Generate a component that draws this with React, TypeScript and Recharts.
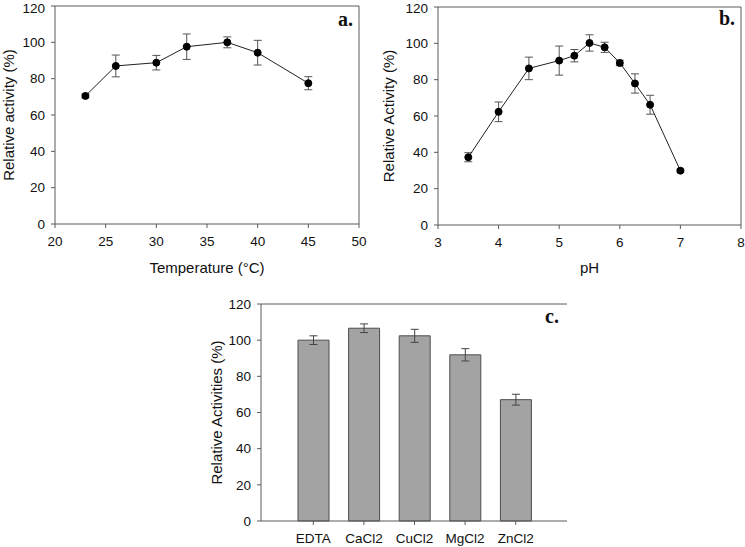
import React from "react";
import {
  LineChart,
  Line,
  BarChart,
  Bar,
  XAxis,
  YAxis,
  ErrorBar,
  ReferenceLine,
} from "recharts";

// a. temperature profile
const tempC = [23, 26, 30, 33, 37, 40, 45];
const tempActivity = [70.5, 87, 88.8, 97.6, 100, 94.3, 77.5];
const tempError = [1, 6, 4, 7, 3, 6.8, 3.6];
const tempTicks = [20, 25, 30, 35, 40, 45, 50];

// b. pH profile
const phValues = [3.5, 4, 4.5, 5, 5.25, 5.5, 5.75, 6, 6.25, 6.5, 7];
const phActivity = [37.3, 62.3, 86.2, 90.5, 93.2, 100.2, 97.8, 89.2, 77.9, 66.2, 29.9];
const phError = [2.5, 5.4, 6.2, 8, 3.4, 4.5, 2.8, 1.5, 5.3, 5.2, 0.8];
const phTicks = [3, 4, 5, 6, 7, 8];

// c. effect of metal ions / EDTA
const compounds = ["EDTA", "CaCl2", "CuCl2", "MgCl2", "ZnCl2"];
const compoundActivity = [100, 106.6, 102.4, 91.9, 67.1];
const compoundError = [2.4, 2.4, 3.6, 3.4, 3];

const activityTicks = [0, 20, 40, 60, 80, 100, 120];

const FONT = '"Liberation Sans", Arial, sans-serif';
const SERIF = '"Liberation Serif", "Times New Roman", serif';
const AXIS = "#5a5a5a";
const TICK = { fill: "#111", fontSize: 13.5, fontFamily: FONT };

const tempData = tempC.map((x, i) => ({ x, y: tempActivity[i], err: tempError[i] }));
const phData = phValues.map((x, i) => ({ x, y: phActivity[i], err: phError[i] }));
const compoundData = compounds.map((name, i) => ({
  name,
  v: compoundActivity[i],
  err: compoundError[i],
}));

// rotated y title, centred on the plot height
function yTitle(text: string, cxOffset: number) {
  return (props: any) => {
    const vb = props.viewBox || {};
    const cx = (vb.x ?? 0) + cxOffset;
    const cy = (vb.y ?? 0) + (vb.height ?? 0) / 2;
    return (
      <text
        x={cx}
        y={cy}
        transform={`rotate(-90 ${cx} ${cy})`}
        textAnchor="middle"
        dominantBaseline="central"
        fontFamily={FONT}
        fontSize={15}
        fill="#111"
      >
        {text}
      </text>
    );
  };
}

function xTitle(text: string, cyOffset: number) {
  return (props: any) => {
    const vb = props.viewBox || {};
    const cx = (vb.x ?? 0) + (vb.width ?? 0) / 2;
    const cy = (vb.y ?? 0) + cyOffset;
    return (
      <text
        x={cx}
        y={cy}
        textAnchor="middle"
        dominantBaseline="central"
        fontFamily={FONT}
        fontSize={15}
        fill="#111"
      >
        {text}
      </text>
    );
  };
}

function PanelLetter({ text, right, top }: { text: string; right: number; top: number }) {
  return (
    <div
      style={{
        position: "absolute",
        right,
        top,
        fontFamily: SERIF,
        fontWeight: "bold",
        fontSize: 20,
        lineHeight: "20px",
        color: "#111",
      }}
    >
      {text}
    </div>
  );
}

export default function App() {
  return (
    <div
      style={{
        position: "absolute",
        left: 0,
        top: 0,
        width: 745,
        height: 547,
        background: "#fff",
        overflow: "hidden",
      }}
    >
      {/* a. temperature */}
      <div style={{ position: "absolute", left: 0, top: 0 }}>
        <LineChart width={370} height={280} data={tempData} margin={{ top: 6, right: 11, left: 0, bottom: 0 }}>
          <XAxis
            type="number"
            dataKey="x"
            domain={[20, 50]}
            ticks={tempTicks}
            height={56}
            stroke={AXIS}
            tick={TICK}
            tickSize={4}
            tickMargin={8}
            label={xTitle("Temperature (°C)", 43)}
          />
          <YAxis
            domain={[0, 120]}
            ticks={activityTicks}
            width={55}
            stroke={AXIS}
            tick={TICK}
            tickSize={4}
            tickMargin={6}
            label={yTitle("Relative activity (%)", 8)}
          />
          <ReferenceLine y={120} stroke={AXIS} />
          <ReferenceLine x={50} stroke={AXIS} />
          <Line
            type="linear"
            dataKey="y"
            stroke="#222"
            strokeWidth={1}
            dot={{ r: 3.5, fill: "#000", stroke: "#000", strokeWidth: 1 }}
            isAnimationActive={false}
          >
            <ErrorBar dataKey="err" width={4} stroke="#555" strokeWidth={1} direction="y" />
          </Line>
        </LineChart>
      </div>
      <PanelLetter text="a." right={392} top={9} />

      {/* b. pH */}
      <div style={{ position: "absolute", left: 370, top: 0 }}>
        <LineChart width={375} height={280} data={phData} margin={{ top: 7, right: 4, left: 0, bottom: 0 }}>
          <XAxis
            type="number"
            dataKey="x"
            domain={[3, 8]}
            ticks={phTicks}
            height={55}
            stroke={AXIS}
            tick={TICK}
            tickSize={4}
            tickMargin={8}
            label={xTitle("pH", 42)}
          />
          <YAxis
            domain={[0, 120]}
            ticks={activityTicks}
            width={68}
            stroke={AXIS}
            tick={TICK}
            tickSize={4}
            tickMargin={6}
            label={yTitle("Relative Activity (%)", 18)}
          />
          <ReferenceLine y={120} stroke={AXIS} />
          <ReferenceLine x={8} stroke={AXIS} />
          <Line
            type="linear"
            dataKey="y"
            stroke="#222"
            strokeWidth={1}
            dot={{ r: 3.5, fill: "#000", stroke: "#000", strokeWidth: 1 }}
            isAnimationActive={false}
          >
            <ErrorBar dataKey="err" width={4} stroke="#555" strokeWidth={1} direction="y" />
          </Line>
        </LineChart>
      </div>
      <PanelLetter text="b." right={10} top={8} />

      {/* c. compounds */}
      <div style={{ position: "absolute", left: 190, top: 290 }}>
        <BarChart width={390} height={257} data={compoundData} margin={{ top: 14, right: 13, left: 0, bottom: 0 }}>
          <XAxis
            dataKey="name"
            padding={{ left: 27, right: 26 }}
            height={26}
            stroke={AXIS}
            tick={TICK}
            tickSize={4}
            tickMargin={8}
          />
          <YAxis
            domain={[0, 120]}
            ticks={activityTicks}
            width={71}
            stroke={AXIS}
            tick={TICK}
            tickSize={4}
            tickMargin={6}
            label={yTitle("Relative Activities (%)", 26)}
          />
          <ReferenceLine y={120} stroke={AXIS} />
          <Bar dataKey="v" barSize={31} fill="#a3a3a3" stroke="#4d4d4d" strokeWidth={1} isAnimationActive={false}>
            <ErrorBar dataKey="err" width={4} stroke="#444" strokeWidth={1} direction="y" />
          </Bar>
        </BarChart>
      </div>
      <PanelLetter text="c." right={186} top={306} />
    </div>
  );
}
